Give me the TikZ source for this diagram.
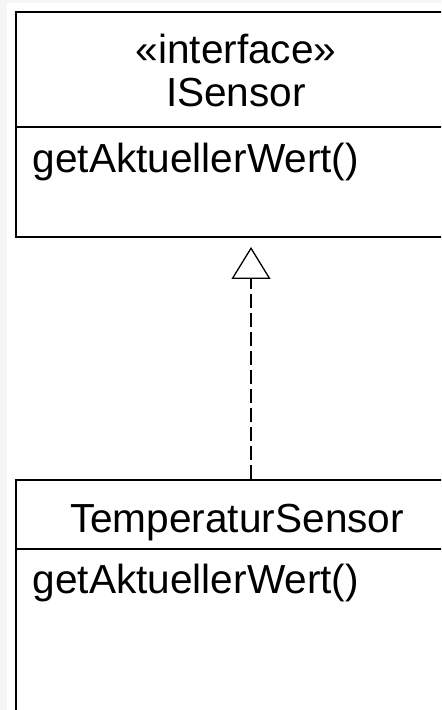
\documentclass[tikz,border=0pt]{standalone}
\usepackage{fontspec}
\setmainfont{Liberation Sans}
\usepackage{tikz}
\usetikzlibrary{arrows.meta,calc}
\usepackage{xcolor}
\definecolor{stripgray}{RGB}{245,245,245}

\begin{document}
\begin{tikzpicture}[x=0.5pt, y=-0.5pt, line width=0.65pt, class box/.style={draw, rectangle, minimum width=220pt, inner sep=0pt}, class text/.style={anchor=base, inner sep=0pt, font=\fontsize{20.3}{24}\selectfont}, realize/.style={dash pattern=on 7pt off 2.5pt, -{Triangle[open, length=16pt, width=19.5pt, line width=0.65pt]}, shorten >=5pt}]
\useasboundingbox (0,0) rectangle (441,710);
\clip (0,0) rectangle (441,710);
\fill[stripgray] (0,0) rectangle (7,710);
\fill[stripgray] (0,0) rectangle (441,3);
\node[class box, minimum height=112.5pt] (isensor) at (236,124.5) {};
\node[class box, minimum height=150pt] (temp) at (236,630) {};
\draw (isensor.west |- 0,127) -- (isensor.east |- 0,127);
\draw (temp.west |- 0,549) -- (temp.east |- 0,549);
\node[class text] (stereo) at (236,64) {«interface»};
\node[class text] (iname) at (236,107) {ISensor};
\node[class text, anchor=base west] (iop) at (32,173) {getAktuellerWert()};
\node[class text] (tname) at (237,532) {TemperaturSensor};
\node[class text, anchor=base west] (top) at (32,593) {getAktuellerWert()};
\coordinate (b) at (251,237);
\draw[realize] (temp.north -| b) -- (b);
\end{tikzpicture}
\end{document}
